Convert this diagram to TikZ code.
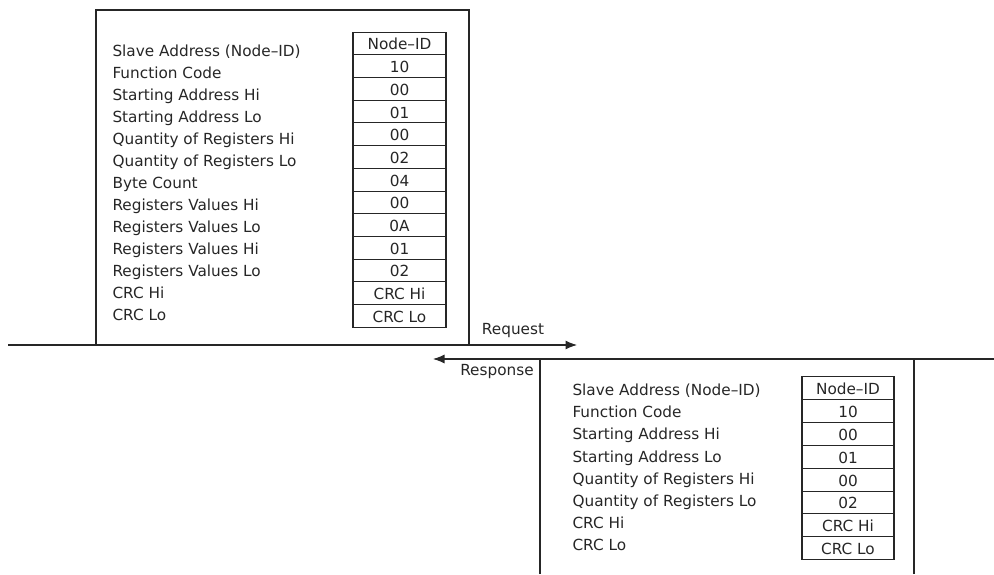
\documentclass[tikz,border=0pt]{standalone}
\usepackage{fontspec}
\setmainfont{DejaVu Sans}
\usetikzlibrary{arrows.meta}

\begin{document}
\begin{tikzpicture}[
  >={Latex[length=2.3mm,width=1.8mm]},
  line width=0.6pt, black!85,
  fld/.style={anchor=west, inner sep=0pt, text height=0.73em, text depth=0pt,
              font=\fontsize{8.7}{10}\selectfont},
  cell/.style={rectangle, draw=black!85, minimum width=1.86cm, minimum height=0.454cm,
               inner sep=0pt, text height=0.73em, text depth=0pt,
               font=\fontsize{8.7}{10}\selectfont},
  rcell/.style={cell, minimum width=1.84cm, minimum height=0.458cm},
  dir/.style={inner sep=0pt, font=\fontsize{8.7}{10}\selectfont}]
\useasboundingbox (0,0) rectangle (19.88,11.48);
% --- request frame (master -> slave) ---
\draw (1.92,4.58) -- (1.92,11.28) -- (9.38,11.28) -- (9.38,4.58);
\node[fld] (q0)  at (2.24,10.48) {Slave Address (Node--ID)};
\node[fld] (q1)  at (2.24,10.04) {Function Code};
\node[fld] (q2)  at (2.24,9.60)  {Starting Address Hi};
\node[fld] (q3)  at (2.24,9.16)  {Starting Address Lo};
\node[fld] (q4)  at (2.24,8.72)  {Quantity of Registers Hi};
\node[fld] (q5)  at (2.24,8.28)  {Quantity of Registers Lo};
\node[fld] (q6)  at (2.24,7.84)  {Byte Count};
\node[fld] (q7)  at (2.24,7.40)  {Registers Values Hi};
\node[fld] (q8)  at (2.24,6.96)  {Registers Values Lo};
\node[fld] (q9)  at (2.24,6.52)  {Registers Values Hi};
\node[fld] (q10) at (2.24,6.08)  {Registers Values Lo};
\node[fld] (q11) at (2.24,5.64)  {CRC Hi};
\node[fld] (q12) at (2.24,5.20)  {CRC Lo};
% request bytes
\node[cell] (qv0)  at (7.99,10.610) {Node--ID};
\node[cell] (qv1)  at (7.99,10.156) {10};
\node[cell] (qv2)  at (7.99,9.702)  {00};
\node[cell] (qv3)  at (7.99,9.248)  {01};
\node[cell] (qv4)  at (7.99,8.794)  {00};
\node[cell] (qv5)  at (7.99,8.340)  {02};
\node[cell] (qv6)  at (7.99,7.886)  {04};
\node[cell] (qv7)  at (7.99,7.432)  {00};
\node[cell] (qv8)  at (7.99,6.978)  {0A};
\node[cell] (qv9)  at (7.99,6.524)  {01};
\node[cell] (qv10) at (7.99,6.070)  {02};
\node[cell] (qv11) at (7.99,5.616)  {CRC Hi};
\node[cell] (qv12) at (7.99,5.162)  {CRC Lo};
% --- time lines ---
\coordinate (reqA) at (0.16,4.58);
\coordinate (reqB) at (11.54,4.58);
\coordinate (rspA) at (19.88,4.30);
\coordinate (rspB) at (8.66,4.30);
\draw[->] (reqA) -- (reqB);
\draw[->] (rspA) -- (rspB);
\node[dir] (req) at (10.26,4.86) {Request};
\node[dir] (rsp) at (9.94,4.04)  {Response};
% --- response frame (slave -> master) ---
\draw (10.80,0) -- (10.80,4.30);
\draw (18.28,0) -- (18.28,4.30);
\node[fld] (r0) at (11.44,3.700) {Slave Address (Node--ID)};
\node[fld] (r1) at (11.44,3.256) {Function Code};
\node[fld] (r2) at (11.44,2.812) {Starting Address Hi};
\node[fld] (r3) at (11.44,2.368) {Starting Address Lo};
\node[fld] (r4) at (11.44,1.924) {Quantity of Registers Hi};
\node[fld] (r5) at (11.44,1.480) {Quantity of Registers Lo};
\node[fld] (r6) at (11.44,1.036) {CRC Hi};
\node[fld] (r7) at (11.44,0.592) {CRC Lo};
% response bytes
\node[rcell] (rv0) at (16.96,3.720) {Node--ID};
\node[rcell] (rv1) at (16.96,3.262) {10};
\node[rcell] (rv2) at (16.96,2.804) {00};
\node[rcell] (rv3) at (16.96,2.346) {01};
\node[rcell] (rv4) at (16.96,1.888) {00};
\node[rcell] (rv5) at (16.96,1.430) {02};
\node[rcell] (rv6) at (16.96,0.972) {CRC Hi};
\node[rcell] (rv7) at (16.96,0.514) {CRC Lo};
\end{tikzpicture}
\end{document}
